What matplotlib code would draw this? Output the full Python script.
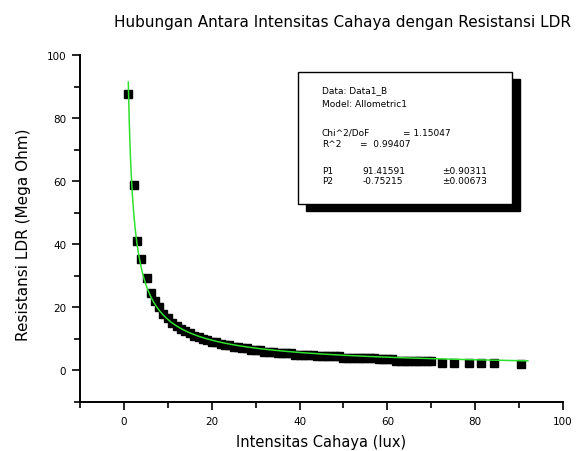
import numpy as np
import matplotlib.pyplot as plt
from matplotlib.patches import Rectangle
from matplotlib.ticker import MultipleLocator

plt.rcParams['font.family'] = ['DejaVu Sans']

# measured points (lux, Mega Ohm)
lux = [0.9, 2.3, 3.0, 3.9, 5.2, 6.1,
       7, 8, 9, 10, 11, 12, 13, 14, 15, 16, 17, 18, 19, 20,
       21, 22, 23, 24, 25, 26, 27, 28, 29, 30,
       31, 32, 33, 34, 35, 36, 37, 38, 39, 40,
       41, 42, 43, 44, 45, 46, 47, 48, 49, 50,
       51, 52, 53, 54, 55, 56, 57, 58, 59, 60,
       61, 62, 63, 64, 65, 66, 67, 68, 69, 70,
       72.5, 75.2, 78.6, 81.4, 84.3, 90.5]
resist = [87.5, 58.8, 41.0, 35.2, 29.2, 24.5,
          22.0, 20.0, 18.0, 16.5, 15.0, 14.0, 13.0, 12.5, 12.0, 11.0, 10.5, 10.0, 9.5, 9.0,
          9.0, 8.5, 8.0, 8.0, 7.5, 7.5, 7.0, 7.0, 6.5, 6.5,
          6.5, 6.0, 6.0, 6.0, 5.5, 5.5, 5.5, 5.5, 5.0, 5.0,
          5.0, 5.0, 5.0, 4.5, 4.5, 4.5, 4.5, 4.5, 4.5, 4.0,
          4.0, 4.0, 4.0, 4.0, 4.0, 4.0, 4.0, 3.5, 3.5, 3.5,
          3.5, 3.0, 3.0, 3.0, 3.0, 3.0, 3.0, 3.0, 3.0, 3.0,
          2.5, 2.5, 2.5, 2.5, 2.5, 2.2]

# Allometric1 fit: y = P1 * x^P2
P1 = 91.41591
P2 = -0.75215
P1_err = 0.90311
P2_err = 0.00673
chi2_dof = 1.15047
r2 = 0.99407

fig = plt.figure(figsize=(5.85, 4.52), dpi=100)
ax = fig.add_axes([80/585, 1 - 403/452, 483/585, 347/452])

xf = np.linspace(1.0, 92, 400)
ax.plot(lux, resist, 's', color='black', markersize=6, zorder=2)
ax.plot(xf, P1 * xf ** P2, color='#2fe02f', lw=1.1, zorder=3)

ax.set_xlim(-10, 100)
ax.set_ylim(-10, 100)
ax.set_xticks([0, 20, 40, 60, 80, 100])
ax.set_yticks([0, 20, 40, 60, 80, 100])
ax.xaxis.set_minor_locator(MultipleLocator(10))
ax.yaxis.set_minor_locator(MultipleLocator(10))
for s in ['top', 'right']:
    ax.spines[s].set_visible(False)
for s in ['left', 'bottom']:
    ax.spines[s].set_linewidth(1.4)
ax.tick_params(which='major', direction='out', length=6, width=1.2, labelsize=7.5, pad=4)
ax.tick_params(which='minor', direction='out', length=4, width=1.2)

ax.set_xlabel('Intensitas Cahaya (lux)', fontsize=10.5)
ax.set_ylabel('Resistansi LDR (Mega Ohm)', fontsize=11)
ax.xaxis.set_label_coords(0.5, -0.092)
ax.yaxis.set_label_coords(-0.102, 0.484)
fig.text(343/585, 1 - 22/452, 'Hubungan Antara Intensitas Cahaya dengan Resistansi LDR',
         ha='center', va='center', fontsize=11)

# info box with shadow
bx0, by0, bw, bh = 0.451, 0.571, 0.443, 0.380
ax.add_patch(Rectangle((bx0 + 0.0166, by0 - 0.020), bw, bh, transform=ax.transAxes,
                       facecolor='black', edgecolor='black', zorder=4, clip_on=False))
ax.add_patch(Rectangle((bx0, by0), bw, bh, transform=ax.transAxes,
                       facecolor='white', edgecolor='black', lw=1.0, zorder=5, clip_on=False))

fs = 6.5


def box_text(x, y, s):
    ax.text(x, y, s, transform=ax.transAxes, fontsize=fs, va='center', zorder=6)


box_text(0.501, 0.899, 'Data: Data1_B')
box_text(0.501, 0.859, 'Model: Allometric1')
box_text(0.501, 0.778, 'Chi^2/DoF')
box_text(0.669, 0.778, '= %.5f' % chi2_dof)
box_text(0.501, 0.746, 'R^2')
box_text(0.580, 0.746, '=  %.5f' % r2)
box_text(0.501, 0.666, 'P1')
box_text(0.584, 0.666, '%.5f' % P1)
box_text(0.749, 0.666, '\u00b1%.5f' % P1_err)
box_text(0.501, 0.637, 'P2')
box_text(0.584, 0.637, '%.5f' % P2)
box_text(0.749, 0.637, '\u00b1%.5f' % P2_err)

fig.savefig('out.png', dpi=100)
